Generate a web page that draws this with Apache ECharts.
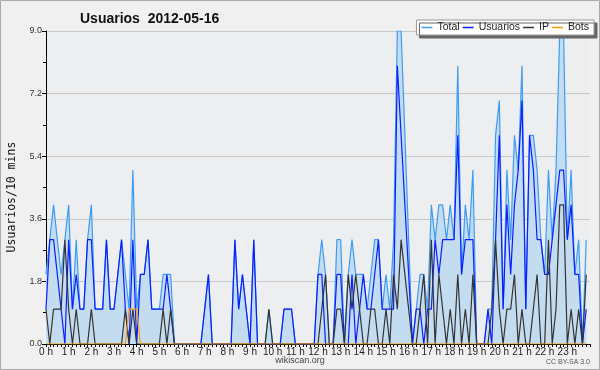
<!DOCTYPE html>
<html><head><meta charset="utf-8">
<script src="https://cdn.jsdelivr.net/npm/echarts@6/dist/echarts.min.js"></script>
<style>html,body{margin:0;padding:0;background:#f0f0f0}#c{width:600px;height:370px}</style>
</head><body><div id="c"></div>
<script>
// 10-minute slots, 0 .. 143
const slots = Array.from({length:144}, (_, i) => i);
const total = [2,3,4,3,2,3,4,1,3,1, 1,3,4,1,1,1,3,1,1,2, 3,2,1,5,1,2,2,3,1,1, 1,2,2,2,0,0,0,0,0,0,
 0,0,1,2,0,0,0,0,0,0, 3,1,2,1,0,3,0,0,0,1, 0,0,0,1,1,1,0,0,0,0, 0,0,2,3,2,0,0,3,3,0,
 2,3,2,2,2,1,2,3,3,1, 2,1,3,9,9,6,3,0,1,2, 2,1,4,3,4,4,3,4,3,8, 2,4,3,5,0,0,0,1,1,6,
 7,1,5,3,6,5,8,1,6,6, 5,3,2,5,3,5,9,9,3,5, 2,3,0,3];
const usuarios = [1,3,3,2,1,0,3,1,2,1, 1,3,3,1,1,1,3,1,1,2, 3,1,0,3,0,2,2,3,1,1, 1,1,2,1,0,0,0,0,0,0,
 0,0,1,2,0,0,0,0,0,0, 3,1,2,1,0,3,0,0,0,0, 0,0,0,1,1,1,0,0,0,0, 0,0,2,2,0,0,0,2,2,0,
 0,2,0,1,2,1,1,2,3,1, 1,1,1,8,6,4,2,0,1,1, 0,1,1,3,2,3,3,3,3,6, 2,3,3,3,0,0,0,1,0,3,
 6,1,4,2,4,5,7,1,6,5, 3,3,2,2,3,4,5,5,3,4, 2,2,0,1];
const ip = [1,0,1,1,1,3,1,0,1,0, 0,0,1,0,0,0,0,0,0,0, 0,1,0,1,0,0,0,0,0,0, 0,1,0,1,0,0,0,0,0,0,
 0,0,0,0,0,0,0,0,0,0, 0,0,0,0,0,0,0,0,0,1, 0,0,0,0,0,0,0,0,0,0, 0,0,0,1,2,0,0,1,1,0,
 2,1,2,1,0,0,1,1,0,0, 1,0,2,1,3,2,1,0,0,1, 2,0,3,0,2,1,0,1,0,2, 0,1,0,2,0,0,0,0,1,3,
 1,0,1,1,2,0,1,0,0,1, 2,0,0,3,0,1,4,4,0,1, 0,1,0,2];
const bots = [0,0,0,0,0,0,0,0,0,0, 0,0,0,0,0,0,0,0,0,0, 0,0,1,1,1,0,0,0,0,0, 0,0,0,0,0,0,0,0,0,0,
 0,0,0,0,0,0,0,0,0,0, 0,0,0,0,0,0,0,0,0,0, 0,0,0,0,0,0,0,0,0,0, 0,0,0,0,0,0,0,0,0,0,
 0,0,0,0,0,0,0,0,0,0, 0,0,0,0,0,0,0,0,0,0, 0,0,0,0,0,0,0,0,0,0, 0,0,0,0,0,0,0,0,0,0,
 0,0,0,0,0,0,0,0,0,0, 0,0,0,0,0,0,0,0,0,0, 0,0,0,0];
const yTicks = [0, 1.8, 3.6, 5.4, 7.2, 9.0];
const titleText = 'Usuarios  2012-05-16';
const yName = 'Usuarios/10 mins';

const pairs = arr => slots.map((s, i) => [s, arr[i]]);
const chart = echarts.init(document.getElementById('c'), null, {renderer: 'canvas'});
const lw = 1.2;
chart.setOption({
  animation: false,
  backgroundColor: '#f0f0f0',
  title: {text: titleText, left: 75, top: 7,
    textStyle: {fontFamily: 'Liberation Sans', fontSize: 14, fontWeight: 'bold', color: '#111'}},
  legend: {
    right: 6, top: 20, padding: [2, 5, 2, 5], itemGap: 3, itemWidth: 11, itemHeight: 1.5,
    icon: 'rect',
    backgroundColor: '#ffffff', borderColor: '#999', borderWidth: 1,
    shadowColor: '#666', shadowOffsetX: 3, shadowOffsetY: 3, shadowBlur: 0,
    textStyle: {fontFamily: 'Liberation Sans', fontSize: 10.5, color: '#222'},
    data: ['Total', 'Usuarios', 'IP', 'Bots']
  },
  grid: {left: 46, right: 10, top: 31, bottom: 26, show: true, backgroundColor: '#eceef0', borderWidth: 0},
  xAxis: {
    type: 'value', min: 0, max: 144, interval: 6,
    axisLine: {show: true, onZero: false, lineStyle: {color: '#000', width: 1}},
    axisTick: {show: true, length: 3, lineStyle: {color: '#000'}},
    minorTick: {show: true, splitNumber: 6, length: 3, lineStyle: {color: '#000'}},
    splitLine: {show: false},
    axisLabel: {fontFamily: 'Liberation Sans', fontSize: 10, color: '#222', margin: 3,
      formatter: v => v >= 144 ? '' : (v / 6) + ' h'}
  },
  yAxis: {
    type: 'value', min: 0, max: 9, interval: 1.8,
    axisLine: {show: true, lineStyle: {color: '#000', width: 1}},
    axisTick: {show: true, length: 4, lineStyle: {color: '#000'}},
    minorTick: {show: true, splitNumber: 2, length: 3, lineStyle: {color: '#000'}},
    splitLine: {show: true, lineStyle: {color: '#c8c8c8', width: 1}},
    axisLabel: {fontFamily: 'Liberation Sans', fontSize: 9, color: '#333', margin: 4,
      formatter: v => v.toFixed(1)}
  },
  graphic: [
    {type: 'rect', shape: {x: 0.5, y: 0.5, width: 599, height: 369}, style: {fill: 'none', stroke: '#aaa', lineWidth: 1}, silent: true, z: 100},
    {type: 'text', x: 12, y: 197, rotation: Math.PI / 2,
      style: {text: yName, fontFamily: 'DejaVu Sans Mono', fontSize: 11.5, fill: '#111', align: 'center', verticalAlign: 'middle'}},
    {type: 'text', x: 300, y: 361, style: {text: 'wikiscan.org', fontFamily: 'Liberation Sans', fontSize: 9, fill: '#444', align: 'center', verticalAlign: 'middle'}},
    {type: 'text', x: 590, y: 362, style: {text: 'CC BY-SA 3.0', fontFamily: 'Liberation Sans', fontSize: 7, fill: '#555', align: 'right', verticalAlign: 'middle'}}
  ],
  series: [
    {name: 'Total', type: 'line', data: pairs(total), symbol: 'none', z: 2,
      lineStyle: {color: '#3d9cf2', width: lw}, itemStyle: {color: '#3d9cf2'},
      areaStyle: {color: '#c4dcf0', opacity: 1}},
    {name: 'Usuarios', type: 'line', data: pairs(usuarios), symbol: 'none', z: 3,
      lineStyle: {color: '#0a1eff', width: lw}, itemStyle: {color: '#0a1eff'}},
    {name: 'IP', type: 'line', data: pairs(ip), symbol: 'none', z: 4,
      lineStyle: {color: '#333333', width: lw}, itemStyle: {color: '#333333'}},
    {name: 'Bots', type: 'line', data: pairs(bots), symbol: 'none', z: 5,
      lineStyle: {color: '#ff9900', width: lw}, itemStyle: {color: '#ff9900'}}
  ]
});
</script></body></html>
